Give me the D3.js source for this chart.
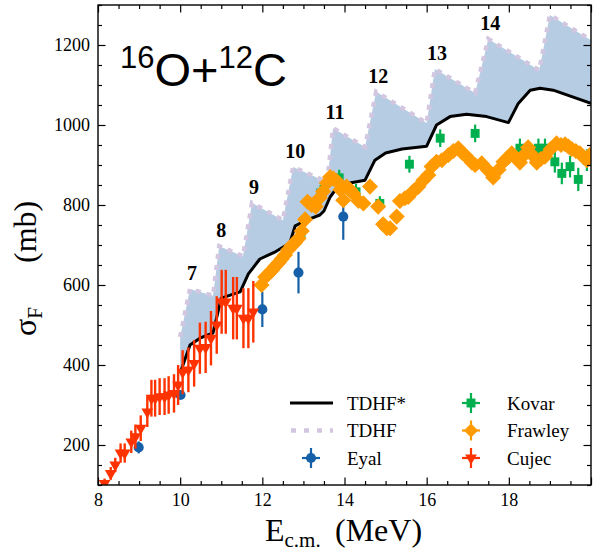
<!DOCTYPE html>
<html>
<head>
<meta charset="utf-8">
<script src="https://cdn.jsdelivr.net/npm/d3@7"></script>
<style>
  body { margin: 0; background: #fff; }
  text { fill: #000; }
</style>
</head>
<body>
<svg id="chart" width="603" height="552"></svg>
<script>
// TDHF (dotted upper edge of band)
const tdhfE = [10.0, 10.24, 10.8, 10.95, 11.53, 11.75, 12.5, 12.75, 13.58, 13.72, 14.5, 14.77, 16.0, 16.2, 17.18, 17.5, 18.74, 19.0, 20.0];
const tdhfS = [470, 590, 573, 697, 672, 805, 762, 895, 857, 992, 945, 1083, 1005, 1140, 1080, 1215, 1137, 1275, 1212];
// TDHF* (black line)
const tdhfStarE = [10.0, 10.24, 10.48, 10.8, 11.0, 11.46, 11.66, 11.94, 12.3, 12.67, 12.8, 13.08, 13.4, 13.5, 13.65, 13.81, 14.13, 14.5, 14.74, 15.0, 15.4, 16.0, 16.24, 16.57, 16.97, 17.46, 17.99, 18.23, 18.52, 18.76, 19.08, 20.0];
const tdhfStarS = [380, 450, 467, 480, 567, 583, 628, 665, 682, 705, 748, 762, 775, 785, 820, 842, 855, 862, 912, 930, 940, 947, 1000, 1021, 1027, 1021, 1006, 1054, 1087, 1092, 1087, 1054];
const peakLabels = ["7", "8", "9", "10", "11", "12", "13", "14"];

// experiments
const eyalE = [8.99, 10.01, 12.0, 12.88, 13.97];
const eyalS = [194, 325, 539, 631, 771];
const eyalErr = [15, 10, 44, 52, 58];

const kovarE = [12.94, 13.42, 13.87, 14.28, 14.86, 15.58, 16.33, 17.18, 18.27, 18.72, 18.88, 19.12, 19.29, 19.49, 19.69, 19.9];
const kovarS = [729, 830, 868, 833, 804, 902, 967, 979, 942, 942, 942, 908, 879, 896, 864, 912];
const kovarErr = [20, 20, 20, 20, 18, 21, 22, 22, 24, 24, 24, 27, 27, 27, 29, 27];

const frawleyE = [11.98, 12.07, 12.15, 12.23, 12.31, 12.40, 12.47, 12.55, 12.63, 12.71, 12.80, 12.88, 12.96, 13.04,
  13.10, 13.20, 13.30, 13.40, 13.48, 13.57, 13.65, 13.73, 13.81, 13.90, 13.97,
  14.05, 14.13, 14.21, 14.34, 14.46, 14.62, 14.82, 14.94, 15.03, 15.11, 15.27, 15.35, 15.47, 15.55, 15.68, 15.80, 15.92,
  16.04, 16.12, 16.24, 16.37, 16.53, 16.65, 16.77, 16.87, 16.97,
  17.10, 17.18, 17.34, 17.50, 17.62, 17.75, 17.87, 17.97,
  18.07, 18.17, 18.27, 18.37, 18.47, 18.57, 18.68, 18.78, 18.88,
  19.02, 19.16, 19.27, 19.37, 19.45, 19.53, 19.63, 19.73, 19.82, 19.90, 19.97];
const frawleyS = [600, 620, 628, 636, 646, 656, 665, 675, 688, 698, 706, 716, 735, 764,
  808, 800, 796, 818, 834, 855, 870, 866, 860, 838, 812,
  846, 838, 829, 810, 804, 846, 796, 752, 742, 742, 771, 810, 817, 820, 835, 846, 862,
  875, 896, 908, 912, 925, 935, 942, 930, 921,
  906, 900, 904, 886, 869, 888, 908, 918,
  929, 918, 906, 925, 944, 925, 906, 915, 921,
  940, 954, 950, 952, 946, 940, 935, 929, 920, 912, 925];

const cujecE = [8.16, 8.31, 8.42, 8.55, 8.65, 8.81, 8.91, 9.04, 9.20, 9.30, 9.39, 9.50, 9.62, 9.72, 9.85, 9.95,
  10.06, 10.20, 10.34, 10.48, 10.62, 10.75, 10.89, 11.01, 11.11, 11.29, 11.38, 11.54, 11.66, 11.78];
const cujecS = [104, 129, 150, 180, 180, 208, 221, 242, 283, 317, 317, 321, 321, 325, 329, 350,
  382, 388, 404, 442, 444, 467, 500, 558, 558, 542, 542, 517, 517, 533];
const cujecErr = [12, 16, 18, 24, 24, 28, 30, 32, 38, 46, 46, 46, 46, 47, 48, 50,
  55, 56, 58, 64, 64, 68, 72, 80, 80, 78, 78, 75, 75, 77];

const xTicks = [8, 10, 12, 14, 16, 18];
const yTicks = [200, 400, 600, 800, 1000, 1200];

const serif = "'Liberation Serif', 'Times New Roman', serif";
const sans = "'Liberation Sans', Arial, sans-serif";

const svg = d3.select("#chart");
const pL = 98, pR = 591, pT = 5, pB = 485;

const x = d3.scaleLinear().domain([8, 20]).range([pL, pR]);
const y = d3.scaleLinear().domain([100, 1300]).range([pB, pT]);

svg.append("defs").append("clipPath").attr("id", "plotclip")
  .append("rect").attr("x", pL).attr("y", pT).attr("width", pR - pL).attr("height", pB - pT);

const plot = svg.append("g").attr("clip-path", "url(#plotclip)");

const zip = (a, b) => a.map((v, i) => [v, b[i]]);
const tdhf = zip(tdhfE, tdhfS);
const tdhfStar = zip(tdhfStarE, tdhfStarS);

const line = d3.line().x(d => x(d[0])).y(d => y(d[1]));

// band between the two TDHF curves
plot.append("path")
  .attr("d", line(tdhf.concat(tdhfStar.slice().reverse())) + "Z")
  .attr("fill", "#b5cce3")
  .attr("stroke", "none");

plot.append("path")
  .attr("d", line(tdhf))
  .attr("fill", "none")
  .attr("stroke", "#d3c6e0")
  .attr("stroke-width", 4.5)
  .attr("stroke-dasharray", "5,6");

plot.append("path")
  .attr("d", line(tdhfStar))
  .attr("fill", "none")
  .attr("stroke", "#000")
  .attr("stroke-width", 3)
  .attr("stroke-linejoin", "round");

// data series helper
function drawSeries(E, S, err, color, symbol, size, rotate, barWidth) {
  const g = plot.append("g");
  if (err) {
    g.selectAll("line").data(E).enter().append("line")
      .attr("x1", d => x(d)).attr("x2", d => x(d))
      .attr("y1", (d, i) => y(S[i] - err[i]))
      .attr("y2", (d, i) => y(S[i] + err[i]))
      .attr("stroke", color).attr("stroke-width", barWidth);
  }
  g.selectAll("path").data(E).enter().append("path")
    .attr("d", d3.symbol().type(symbol).size(size))
    .attr("transform", (d, i) => "translate(" + x(d) + "," + y(S[i]) + ") rotate(" + rotate + ")")
    .attr("fill", color);
}

const cols = {
  eyal: "#1560a8",
  kovar: "#00b04f",
  frawley: "#ff9a00",
  cujec: "#ff3300"
};

drawSeries(eyalE, eyalS, eyalErr, cols.eyal, d3.symbolCircle, 80, 0, 2.2);
drawSeries(kovarE, kovarS, kovarErr, cols.kovar, d3.symbolSquare, 80, 0, 2.2);
drawSeries(frawleyE, frawleyS, null, cols.frawley, d3.symbolSquare, 130, 45, 2);
drawSeries(cujecE, cujecS, cujecErr, cols.cujec, d3.symbolTriangle, 60, 180, 2.4);

// peak labels
svg.append("g").selectAll("text").data(peakLabels).enter().append("text")
  .attr("x", (d, i) => x(tdhfE[2 * i + 1]) + 2)
  .attr("y", (d, i) => y(tdhfS[2 * i + 1]) - 9)
  .attr("text-anchor", "middle")
  .attr("font-family", serif)
  .attr("font-weight", "bold")
  .attr("font-size", 20)
  .text(d => d);

// axes, ticks inward on all sides
const minorX = d3.range(8, 20.001, 0.5).filter(v => v % 2 !== 0);
const minorY = d3.range(100, 1300.001, 50).filter(v => v % 200 !== 0);

function ticks(axisFn, scale, vals, len, labels, tx) {
  const g = svg.append("g").attr("transform", tx)
    .call(axisFn(scale).tickValues(vals).tickSize(-len).tickPadding(8)
      .tickFormat(labels ? d3.format("d") : ""));
  g.attr("font-family", serif).attr("font-size", 18);
  g.select(".domain").remove();
  g.selectAll(".tick line").attr("stroke", "#000").attr("stroke-width", 1.2);
  g.selectAll("text").attr("font-family", serif).attr("font-size", 18).attr("fill", "#000");
  return g;
}

ticks(d3.axisBottom, x, xTicks.concat([20]), 7.5, true, "translate(0," + pB + ")")
  .selectAll(".tick").filter(d => d === 20).select("text").remove();
ticks(d3.axisBottom, x, minorX, 4, false, "translate(0," + pB + ")");
ticks(d3.axisTop, x, xTicks.concat([20]), 7.5, false, "translate(0," + pT + ")");
ticks(d3.axisTop, x, minorX, 4, false, "translate(0," + pT + ")");
ticks(d3.axisLeft, y, yTicks, 7.5, true, "translate(" + pL + ",0)");
ticks(d3.axisLeft, y, minorY, 4, false, "translate(" + pL + ",0)");
ticks(d3.axisRight, y, yTicks, 7.5, false, "translate(" + pR + ",0)");
ticks(d3.axisRight, y, minorY, 4, false, "translate(" + pR + ",0)");

svg.append("rect")
  .attr("x", pL).attr("y", pT).attr("width", pR - pL).attr("height", pB - pT)
  .attr("fill", "none").attr("stroke", "#000").attr("stroke-width", 1.4);

// title
const title = svg.append("text").attr("x", 120).attr("y", 86)
  .attr("font-family", sans).attr("font-size", 47);
title.append("tspan").attr("font-size", 31).attr("dy", -18).text("16");
title.append("tspan").attr("dy", 18).text("O+");
title.append("tspan").attr("font-size", 31).attr("dy", -18).text("12");
title.append("tspan").attr("dy", 18).text("C");

// axis titles
const xl = svg.append("text").attr("y", 541)
  .attr("font-family", serif).attr("font-size", 32);
xl.append("tspan").attr("x", 265).text("E");
xl.append("tspan").attr("font-size", 21).attr("dy", 6).text("c.m.");
xl.append("tspan").attr("x", 335).attr("dy", -6).text("(MeV)");

const yl = svg.append("text").attr("transform", "translate(36,336) rotate(-90)")
  .attr("font-family", serif).attr("font-size", 32);
yl.append("tspan").attr("x", 0).text("σ");
yl.append("tspan").attr("font-size", 21).attr("dy", 6).text("F");
yl.append("tspan").attr("x", 73).attr("dy", -6).text("(mb)");

// legend
const legendLeft = ["TDHF*", "TDHF", "Eyal"];
const legendRight = ["Kovar", "Frawley", "Cujec"];
const rowY = [403, 430.5, 458];

const lg = svg.append("g");
lg.append("line").attr("x1", 290).attr("x2", 333).attr("y1", rowY[0]).attr("y2", rowY[0])
  .attr("stroke", "#000").attr("stroke-width", 3);
lg.append("line").attr("x1", 291).attr("x2", 333).attr("y1", rowY[1]).attr("y2", rowY[1])
  .attr("stroke", "#d3c6e0").attr("stroke-width", 4.5).attr("stroke-dasharray", "5,8");

function legendMarker(cx, cy, color, symbol, size, rotate) {
  lg.append("line").attr("x1", cx - 9).attr("x2", cx + 9).attr("y1", cy).attr("y2", cy)
    .attr("stroke", color).attr("stroke-width", 2.2);
  lg.append("line").attr("x1", cx).attr("x2", cx).attr("y1", cy - 10).attr("y2", cy + 10)
    .attr("stroke", color).attr("stroke-width", 2.2);
  lg.append("path").attr("d", d3.symbol().type(symbol).size(size))
    .attr("transform", "translate(" + cx + "," + cy + ") rotate(" + rotate + ")")
    .attr("fill", color);
}
legendMarker(311, rowY[2], cols.eyal, d3.symbolCircle, 80, 0);
legendMarker(471, rowY[0], cols.kovar, d3.symbolSquare, 80, 0);
legendMarker(471, rowY[1], cols.frawley, d3.symbolSquare, 100, 45);
legendMarker(471, rowY[2], cols.cujec, d3.symbolTriangle, 60, 180);

lg.selectAll(".ll").data(legendLeft).enter().append("text")
  .attr("x", 347).attr("y", (d, i) => rowY[i] + 6.5)
  .attr("font-family", serif).attr("font-size", 19).text(d => d);
lg.selectAll(".lr").data(legendRight).enter().append("text")
  .attr("x", 507).attr("y", (d, i) => rowY[i] + 6.5)
  .attr("font-family", serif).attr("font-size", 19).text(d => d);
</script>
</body>
</html>
